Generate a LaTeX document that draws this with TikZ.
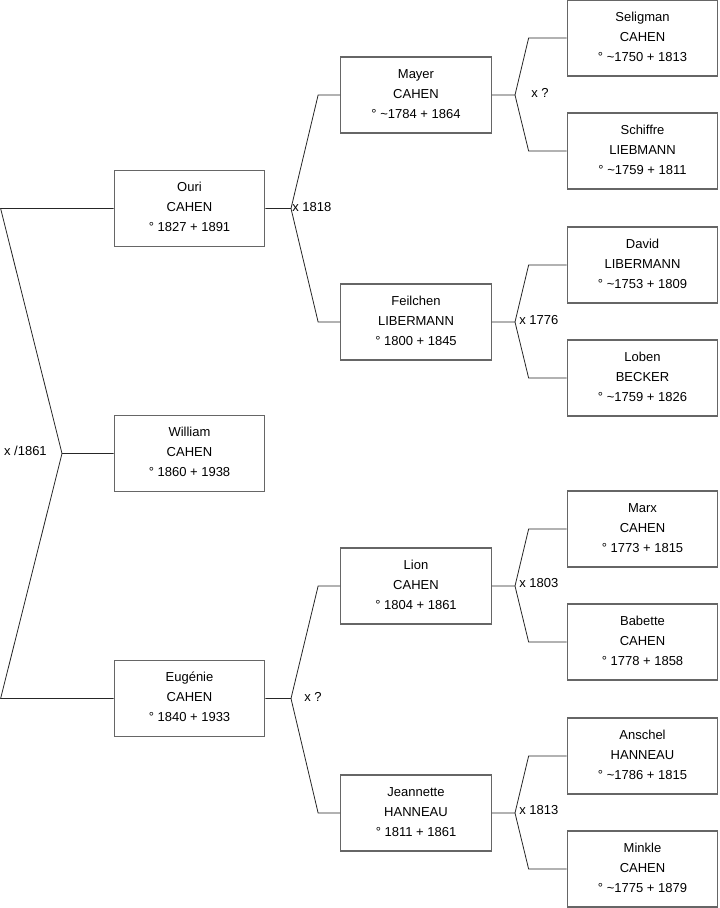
\documentclass[tikz,border=0pt]{standalone}
\usepackage{fontspec}
\setmainfont{Liberation Sans}
\usepackage{tikz}
\usetikzlibrary{positioning, calc}

\begin{document}
\begin{tikzpicture}[x=0.75pt, y=-0.75pt,
    every node/.style={font=\fontsize{9.75}{15}\selectfont},
    person/.style={draw=black!60, line width=0.8pt, align=center, inner sep=0pt,
      minimum width=113pt, minimum height=57pt, text depth=2pt},
    link/.style={draw=black!85, line width=0.6pt}]
    \useasboundingbox (0,0) rectangle (719,908);
    % children
    \node[person] (ouri) at (189.5,208.5) {Ouri\\CAHEN\\° 1827 + 1891};
    \node[person] (william) at (189.5,453.5) {William\\CAHEN\\° 1860 + 1938};
    \node[person] (eugenie) at (189.5,698.5) {Eugénie\\CAHEN\\° 1840 + 1933};
    % parents
    \node[person] (mayer) at (416,95) {Mayer\\CAHEN\\° \textasciitilde1784 + 1864};
    \node[person] (feilchen) at (416,322) {Feilchen\\LIBERMANN\\° 1800 + 1845};
    \node[person] (lion) at (416,586) {Lion\\CAHEN\\° 1804 + 1861};
    \node[person] (jeannette) at (416,813) {Jeannette\\HANNEAU\\° 1811 + 1861};
    % grandparents
    \node[person] (seligman) at (642.5,38) {Seligman\\CAHEN\\° \textasciitilde1750 + 1813};
    \node[person] (schiffre) at (642.5,151) {Schiffre\\LIEBMANN\\° \textasciitilde1759 + 1811};
    \node[person] (david) at (642.5,265) {David\\LIBERMANN\\° \textasciitilde1753 + 1809};
    \node[person] (loben) at (642.5,378) {Loben\\BECKER\\° \textasciitilde1759 + 1826};
    \node[person] (marx) at (642.5,529) {Marx\\CAHEN\\° 1773 + 1815};
    \node[person] (babette) at (642.5,642) {Babette\\CAHEN\\° 1778 + 1858};
    \node[person] (anschel) at (642.5,756) {Anschel\\HANNEAU\\° \textasciitilde1786 + 1815};
    \node[person] (minkle) at (642.5,869) {Minkle\\CAHEN\\° \textasciitilde1775 + 1879};

    % marriage points
    \coordinate (xw) at (62,453.5);
    \coordinate (xo) at (291,208.5);
    \coordinate (xe) at (291,698.5);
    \coordinate (xm) at (515,95);
    \coordinate (xf) at (515,322);
    \coordinate (xl) at (515,586);
    \coordinate (xj) at (515,813);

    \draw[link] (ouri.west) -- ++(-113,0) -- (xw) -- (william.west);
    \draw[link] (eugenie.west) -- ++(-113,0) -- (xw);
    \node[anchor=east, inner sep=0pt] (mw) at (47,451) {x /1861};

    \draw[link] (ouri.east) -- (xo) -- ($(mayer.west)+(-22,0)$) -- (mayer.west);
    \draw[link] (xo) -- ($(feilchen.west)+(-22,0)$) -- (feilchen.west);
    \node[anchor=west, inner sep=0pt] (mo) at (292,207) {x 1818};

    \draw[link] (eugenie.east) -- (xe) -- ($(lion.west)+(-22,0)$) -- (lion.west);
    \draw[link] (xe) -- ($(jeannette.west)+(-22,0)$) -- (jeannette.west);
    \node[anchor=west, inner sep=0pt] (me) at (304,697) {x ?};

    \draw[link] (mayer.east) -- (xm) -- ($(seligman.west)+(-38,0)$) -- (seligman.west);
    \draw[link] (xm) -- ($(schiffre.west)+(-38,0)$) -- (schiffre.west);
    \node[anchor=west, inner sep=0pt] (mm) at (531,93) {x ?};

    \draw[link] (feilchen.east) -- (xf) -- ($(david.west)+(-38,0)$) -- (david.west);
    \draw[link] (xf) -- ($(loben.west)+(-38,0)$) -- (loben.west);
    \node[anchor=west, inner sep=0pt] (mf) at (519,320) {x 1776};

    \draw[link] (lion.east) -- (xl) -- ($(marx.west)+(-38,0)$) -- (marx.west);
    \draw[link] (xl) -- ($(babette.west)+(-38,0)$) -- (babette.west);
    \node[anchor=west, inner sep=0pt] (ml) at (519,583) {x 1803};

    \draw[link] (jeannette.east) -- (xj) -- ($(anschel.west)+(-38,0)$) -- (anschel.west);
    \draw[link] (xj) -- ($(minkle.west)+(-38,0)$) -- (minkle.west);
    \node[anchor=west, inner sep=0pt] (mj) at (519,810) {x 1813};
  \end{tikzpicture}
\end{document}
